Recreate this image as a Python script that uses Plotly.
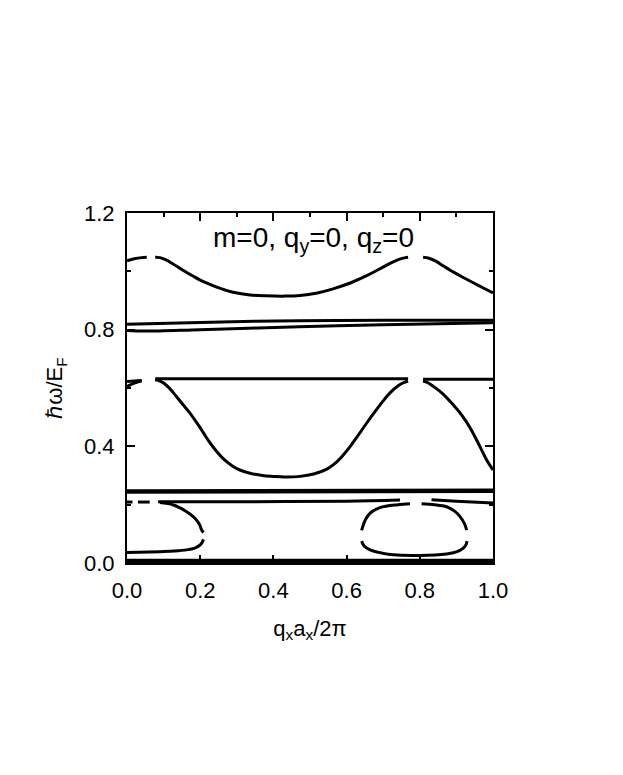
import plotly.graph_objects as go

# band near 1.0
top_left_x = [0.0, 0.02, 0.04, 0.054]
top_left_y = [1.036, 1.043, 1.047, 1.048]
top_mid_x = [0.077, 0.09, 0.105, 0.125, 0.153, 0.18, 0.2, 0.225, 0.245, 0.27, 0.29, 0.336, 0.38,
             0.427, 0.473, 0.52, 0.563, 0.61, 0.655, 0.69, 0.72, 0.745, 0.768]
top_mid_y = [1.048, 1.047, 1.040, 1.026, 1.004, 0.984, 0.970, 0.956, 0.946, 0.935, 0.928, 0.919, 0.916,
             0.915, 0.917, 0.926, 0.940, 0.960, 0.985, 1.008, 1.028, 1.042, 1.048]
top_right_x = [0.809, 0.825, 0.845, 0.865, 0.883, 0.9, 0.92, 0.946, 0.975, 1.0]
top_right_y = [1.048, 1.045, 1.034, 1.018, 1.004, 0.992, 0.978, 0.961, 0.942, 0.926]

# pair of nearly flat bands near 0.8
b08_up_x = [0.0, 0.2, 0.47, 0.7, 1.0]
b08_up_y = [0.819, 0.825, 0.831, 0.832, 0.832]
b08_lo_x = [0.0, 0.05, 0.2, 0.47, 0.7, 1.0]
b08_lo_y = [0.797, 0.795, 0.800, 0.810, 0.817, 0.824]

# flat band near 0.63 and the deep band below it
flat_left_x = [0.0, 0.04]
flat_left_y = [0.622, 0.626]
flat_mid_x = [0.077, 0.768]
flat_mid_y = [0.632, 0.632]
flat_right_x = [0.809, 1.0]
flat_right_y = [0.630, 0.630]
dip_left_x = [0.0, 0.02, 0.04]
dip_left_y = [0.605, 0.617, 0.625]
dip_mid_x = [0.077, 0.09, 0.10, 0.113, 0.126, 0.14, 0.155, 0.172, 0.19, 0.208, 0.225, 0.245, 0.265,
             0.29, 0.31, 0.336, 0.37, 0.40, 0.43, 0.473, 0.51, 0.546, 0.565, 0.585, 0.609, 0.63,
             0.655, 0.68, 0.70, 0.72, 0.74, 0.755, 0.768]
dip_mid_y = [0.628, 0.624, 0.617, 0.603, 0.585, 0.563, 0.540, 0.514, 0.482, 0.448, 0.415, 0.382, 0.355,
             0.331, 0.318, 0.308, 0.300, 0.297, 0.295, 0.297, 0.305, 0.322, 0.338, 0.362, 0.398, 0.435,
             0.480, 0.523, 0.556, 0.585, 0.607, 0.618, 0.624]
dip_right_x = [0.809, 0.822, 0.84, 0.863, 0.89, 0.918, 0.94, 0.964, 0.982, 1.0]
dip_right_y = [0.624, 0.618, 0.603, 0.580, 0.544, 0.501, 0.458, 0.400, 0.355, 0.319]

# thick band at 0.245 and line near 0.21
b025_x = [0.0, 1.0]
b025_y = [0.245, 0.248]
b021_a_x = [0.0, 0.015]
b021_a_y = [0.209, 0.209]
b021_b_x = [0.03, 0.062]
b021_b_y = [0.209, 0.209]
b021_c_x = [0.085, 0.3, 0.6, 0.746]
b021_c_y = [0.210, 0.210, 0.212, 0.216]
b021_d_x = [0.832, 0.9, 1.0]
b021_d_y = [0.217, 0.212, 0.206]

# left loop
loopL_up_x = [0.09, 0.127, 0.163, 0.18, 0.19, 0.199, 0.204, 0.209]
loopL_up_y = [0.207, 0.199, 0.176, 0.160, 0.147, 0.130, 0.113, 0.104]
loopL_lo_x = [0.209, 0.205, 0.198, 0.185, 0.163, 0.13, 0.09, 0.0]
loopL_lo_y = [0.081, 0.070, 0.060, 0.051, 0.045, 0.041, 0.039, 0.036]

# right loop
loopR_ul_x = [0.773, 0.74, 0.691, 0.665, 0.652, 0.645, 0.641]
loopR_ul_y = [0.203, 0.200, 0.190, 0.172, 0.150, 0.128, 0.112]
loopR_lo_x = [0.641, 0.648, 0.664, 0.70, 0.727, 0.80, 0.873, 0.90, 0.918, 0.926, 0.929]
loopR_lo_y = [0.075, 0.058, 0.045, 0.033, 0.028, 0.026, 0.031, 0.038, 0.050, 0.062, 0.075]
loopR_ur_x = [0.805, 0.84, 0.873, 0.895, 0.91, 0.922, 0.928]
loopR_ur_y = [0.203, 0.200, 0.193, 0.178, 0.159, 0.135, 0.113]

# band sitting on zero
zero_x = [0.0, 1.0]
zero_y = [0.006, 0.006]

branches = [
    (top_left_x, top_left_y, 3), (top_mid_x, top_mid_y, 3), (top_right_x, top_right_y, 3),
    (b08_up_x, b08_up_y, 3), (b08_lo_x, b08_lo_y, 3),
    (flat_left_x, flat_left_y, 3), (flat_mid_x, flat_mid_y, 3), (flat_right_x, flat_right_y, 3),
    (dip_left_x, dip_left_y, 3), (dip_mid_x, dip_mid_y, 3), (dip_right_x, dip_right_y, 3),
    (b025_x, b025_y, 4.5),
    (b021_a_x, b021_a_y, 3), (b021_b_x, b021_b_y, 3), (b021_c_x, b021_c_y, 3), (b021_d_x, b021_d_y, 3),
    (loopL_up_x, loopL_up_y, 3), (loopL_lo_x, loopL_lo_y, 3),
    (loopR_ul_x, loopR_ul_y, 3), (loopR_lo_x, loopR_lo_y, 3), (loopR_ur_x, loopR_ur_y, 3),
    (zero_x, zero_y, 5),
]

fig = go.Figure()
for bx, by, w in branches:
    fig.add_trace(go.Scatter(x=bx, y=by, mode='lines',
                             line=dict(color='black', width=w, shape='spline', smoothing=1.0),
                             showlegend=False, hoverinfo='skip'))

font = dict(family='Liberation Sans, Arial, sans-serif', size=22, color='black')

fig.add_annotation(x=0.51, y=1.11, xref='x', yref='y', showarrow=False,
                   text='m=0, q<sub>y</sub>=0, q<sub>z</sub>=0',
                   font=dict(family='Liberation Sans, Arial, sans-serif', size=28, color='black'))

# the page body has an 8px margin, so the margins are trimmed by 8px
fig.update_layout(
    width=615, height=767,
    margin=dict(l=119, r=130, t=205, b=212),
    paper_bgcolor='white', plot_bgcolor='white',
    font=font,
    xaxis=dict(range=[0, 1], tickvals=[0, 0.2, 0.4, 0.6, 0.8, 1.0],
               ticktext=['0.0', '0.2', '0.4', '0.6', '0.8', '1.0'],
               ticks='inside', ticklen=8, tickwidth=1.5, tickcolor='black',
               ticklabelstandoff=7,
               minor=dict(dtick=0.1, ticks='inside', ticklen=4, tickwidth=1.5, tickcolor='black'),
               showline=True, linewidth=2, linecolor='black', mirror='ticks',
               showgrid=False, zeroline=False,
               title=dict(text='q<sub>x</sub>a<sub>x</sub>/2π', standoff=18, font=font)),
    yaxis=dict(range=[0, 1.2], tickvals=[0, 0.4, 0.8, 1.2],
               ticktext=['0.0', '0.4', '0.8', '1.2'],
               ticks='inside', ticklen=8, tickwidth=1.5, tickcolor='black',
               ticklabelstandoff=6,
               minor=dict(dtick=0.2, ticks='inside', ticklen=4, tickwidth=1.5, tickcolor='black'),
               showline=True, linewidth=2, linecolor='black', mirror='ticks',
               showgrid=False, zeroline=False,
               title=dict(text='ℏω/E<sub>F</sub>', standoff=15, font=font)),
)

fig.write_html("out.html")
